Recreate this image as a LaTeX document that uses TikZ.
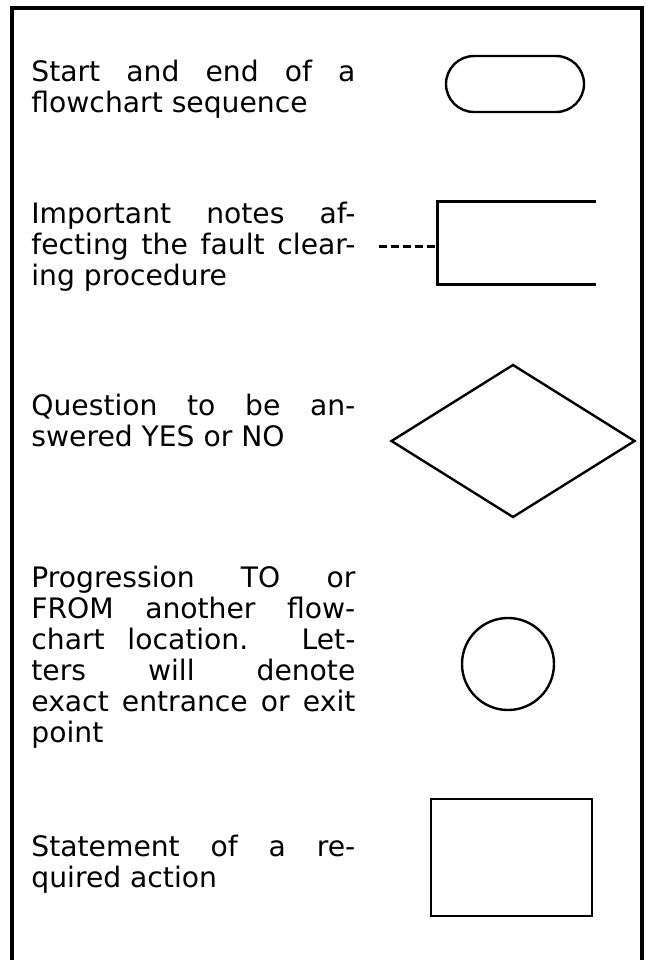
\documentclass[tikz,border=0pt]{standalone}
\usepackage{fontspec}
\setsansfont{DejaVu Sans}
\usetikzlibrary{shapes.geometric}
\tolerance=10000
\hbadness=10000
\tikzset{
  base/.style={font=\sffamily\fontsize{14.1pt}{15.5pt}\selectfont, inner sep=0pt},
  txt/.style={base, text width=162pt, align=justify, anchor=base west},
  shp/.style={draw, line width=1.2pt, inner sep=0pt},
  term/.style={shp, rectangle, rounded corners=14pt, minimum width=69pt, minimum height=28pt},
  notebox/.style={rectangle, inner sep=0pt, minimum width=79pt, minimum height=41pt},
  dec/.style={shp, diamond, aspect=1.6, minimum width=122pt, minimum height=76.5pt},
  conn/.style={shp, circle, minimum size=46pt},
  act/.style={shp, rectangle, minimum width=80.5pt, minimum height=58.5pt},
  frame/.style={line width=2pt},
  noteline/.style={line width=1.5pt, dash pattern=on 4pt off 2pt},
}
\begin{document}
\begin{tikzpicture}[x=0.5pt,y=-0.5pt]
  \useasboundingbox[fill=white] (0,0) rectangle (646,960);
  % outer frame, open at the bottom
  \draw[frame] (12,960) -- (12,8) -- (642,8) -- (642,960);
  % terminator
  \node[txt] (t1) at (31,81) {Start and end of a\linebreak flowchart sequence};
  \node[term] (s1) at (515,84) {};
  % notes
  \node[txt] (t2) at (31,223) {Important notes af-\linebreak fecting the fault clear-\linebreak ing procedure};
  \node[notebox] (s2) at (517,243) {};
  \draw[shp] (s2.north east) -- (s2.north west) -- (s2.south west) -- (s2.south east);
  \coordinate (s2tail) at (379,246);
  \draw[noteline] (s2tail) -- (s2tail -| s2.west);
  % decision
  \node[txt] (t3) at (31,415) {Question to be an-\linebreak swered YES or NO};
  \node[dec] (s3) at (513,441) {};
  % connector
  \node[txt] (t4) at (31,587) {Progression TO or\linebreak FROM another flow-\linebreak chart location. Let-\linebreak ters will denote\linebreak exact entrance or exit\linebreak point};
  \node[conn] (s4) at (508,664) {};
  % action
  \node[txt] (t5) at (31,856) {Statement of a re-\linebreak quired action};
  \node[act] (s5) at (511.5,857.5) {};
\end{tikzpicture}
\end{document}
